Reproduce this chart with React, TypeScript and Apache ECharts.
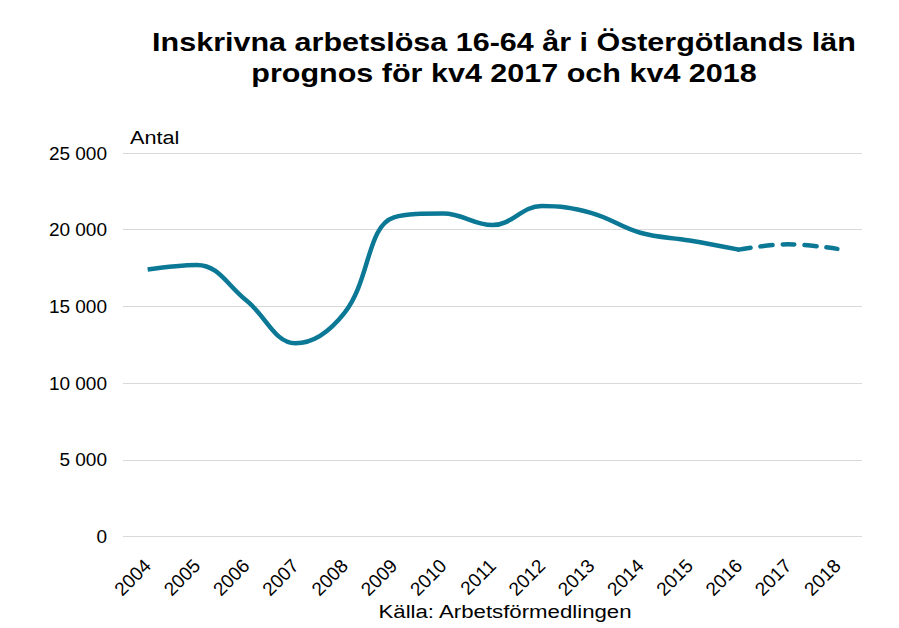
import React, { useEffect, useRef } from "react";
import * as echarts from "echarts";

const years = ["2004","2005","2006","2007","2008","2009","2010","2011","2012","2013","2014","2015","2016","2017","2018"];
const actual = [17400, 17700, 15400, 12600, 14600, 20800, 21050, 20300, 21550, 21100, 19800, 19300, 18700, null, null];
const forecast = [null, null, null, null, null, null, null, null, null, null, null, null, 18700, 19050, 18750];
const yTicks = [0, 5000, 10000, 15000, 20000, 25000];

const titleLines = ["Inskrivna arbetslösa 16-64 år i Östergötlands län", "prognos för kv4 2017 och kv4 2018"];
const FONT = "'Liberation Sans', Arial, sans-serif";
const LINE_COLOR = "#0b7896";

function fmt(v: number) {
  return String(v).replace(/\B(?=(\d{3})+(?!\d))/g, " ");
}

export default function App() {
  const ref = useRef<HTMLDivElement>(null);
  useEffect(() => {
    document.body.style.margin = "0";
    if (!ref.current) return;
    const chart = echarts.init(ref.current, null, { renderer: "svg" });
    chart.setOption({
      animation: false,
      textStyle: { fontFamily: FONT },
      grid: { left: 123, right: 37, top: 153, bottom: 91.5, containLabel: false },
      graphic: [
        { type: "text", x: 504, y: 42, scaleX: 1.174, style: { text: titleLines[0], font: `bold 26px ${FONT}`, fill: "#000", align: "center", verticalAlign: "middle" } },
        { type: "text", x: 504, y: 73, scaleX: 1.174, style: { text: titleLines[1], font: `bold 26px ${FONT}`, fill: "#000", align: "center", verticalAlign: "middle" } },
        { type: "text", x: 130, y: 137, scaleX: 1.14, style: { text: "Antal", font: `19px ${FONT}`, fill: "#000", align: "left", verticalAlign: "middle" } },
        { type: "text", x: 505, y: 611, scaleX: 1.17, style: { text: "Källa: Arbetsförmedlingen", font: `19px ${FONT}`, fill: "#000", align: "center", verticalAlign: "middle" } },
      ],
      xAxis: {
        type: "category",
        data: years,
        boundaryGap: true,
        axisLine: { show: false },
        axisTick: { show: false },
        axisLabel: { rotate: 45, fontSize: 19, color: "#000", margin: 26, fontFamily: FONT, interval: 0 },
      },
      yAxis: {
        type: "value",
        min: yTicks[0],
        max: yTicks[yTicks.length - 1],
        interval: 5000,
        axisLine: { show: false },
        axisTick: { show: false },
        splitLine: { lineStyle: { color: "#d9d9d9", width: 1 } },
        axisLabel: { fontSize: 19, color: "#000", margin: 16, fontFamily: FONT, formatter: (v: number) => fmt(v) },
      },
      series: [
        {
          type: "line",
          data: actual,
          smooth: 0.4,
          showSymbol: false,
          connectNulls: false,
          lineStyle: { color: LINE_COLOR, width: 4.5 },
        },
        {
          type: "line",
          data: forecast,
          smooth: 0.4,
          showSymbol: false,
          lineStyle: { color: LINE_COLOR, width: 4.5, type: [12, 10], cap: "round" },
        },
      ],
    });
    return () => chart.dispose();
  }, []);
  return <div ref={ref} style={{ width: 899, height: 628 }} />;
}
